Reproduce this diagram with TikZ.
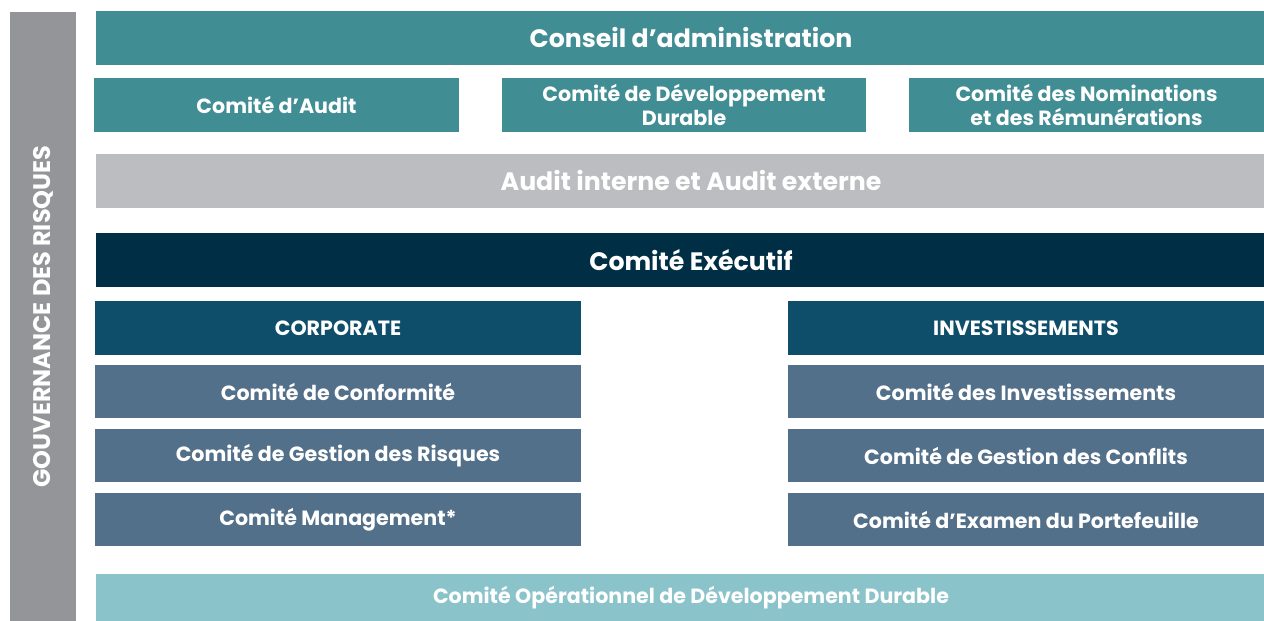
\documentclass[tikz,border=0pt]{standalone}
\usepackage{fontspec}
\setmainfont{Poppins}
\definecolor{boardteal}{HTML}{418D94}
\definecolor{auditgray}{HTML}{BBBDC0}
\definecolor{execnavy}{HTML}{002F45}
\definecolor{branchblue}{HTML}{0E4E6B}
\definecolor{cmtslate}{HTML}{53708A}
\definecolor{opteal}{HTML}{8AC3CA}
\definecolor{govgray}{HTML}{939598}
\begin{document}
\begin{tikzpicture}[x=0.5pt, y=-0.5pt,
    box/.style={shape=rectangle, inner sep=0, text=white, align=center, font=\bfseries\fontsize{10.3}{12}\selectfont},
    wide/.style={box, minimum width=584pt, minimum height=27pt},
    label/.style={inner sep=0, text=white, align=center, font=\bfseries\fontsize{12.6}{14}\selectfont},
    small/.style={box, minimum width=182.5pt, minimum height=27pt, fill=boardteal},
    half/.style={box, minimum height=26.5pt},
    left/.style={half, minimum width=243pt},
    right/.style={half, minimum width=238pt}]
  \useasboundingbox (0,0) rectangle (1264,621);
  % Governance bar
  \node[box, fill=govgray, rotate=90, minimum width=304.5pt, minimum height=33pt, font=\bfseries\fontsize{12}{14}\selectfont] (gov) at (43, 316.5) {GOUVERNANCE DES RISQUES};
  % Board and its committees
  \node[wide, fill=boardteal] (board) at (680, 38) {};
  \node[label] (board-t) at ([xshift=5.5pt]board.center) {Conseil d’administration};
  \node[small] (audit) at (276.5, 105) {Comité d’Audit};
  \node[small, minimum width=182pt] (dd) at (684, 105) {Comité de Développement\\Durable};
  \node[small, minimum width=177.5pt] (nom) at (1086.5, 105) {Comité des Nominations\\et des Rémunérations};
  \node[wide, fill=auditgray] (ext) at (680, 181) {};
  \node[label] (ext-t) at ([xshift=5.5pt]ext.center) {Audit interne et Audit externe};
  \node[wide, fill=execnavy] (exec) at (680, 260) {};
  \node[label] (exec-t) at ([xshift=5.5pt]exec.center) {Comité Exécutif};
  % Corporate
  \node[left, minimum height=27pt, fill=branchblue] (corp) at (338, 328) {CORPORATE};
  \node[left, fill=cmtslate] (conf) at (338, 391.5) {Comité de Conformité};
  \node[left, fill=cmtslate] (risk) at (338, 455.5) {Comité de Gestion des Risques};
  \node[left, fill=cmtslate] (mgmt) at (338, 519.5) {Comité Management*};
  % Investissements
  \node[right, minimum height=27pt, fill=branchblue] (inv) at (1026, 328) {INVESTISSEMENTS};
  \node[right, fill=cmtslate] (invc) at (1026, 391.5) {Comité des Investissements};
  \node[right, fill=cmtslate] (confl) at (1026, 455.5) {Comité de Gestion des Conflits};
  \node[right, fill=cmtslate] (port) at (1026, 519.5) {Comité d’Examen du Portefeuille};
  % Operational committee
  \node[wide, minimum height=23.5pt, fill=opteal] (op) at (680, 597.5) {};
  \node[box] (op-t) at ([xshift=5.5pt]op.center) {Comité Opérationnel de Développement Durable};
\end{tikzpicture}
\end{document}
